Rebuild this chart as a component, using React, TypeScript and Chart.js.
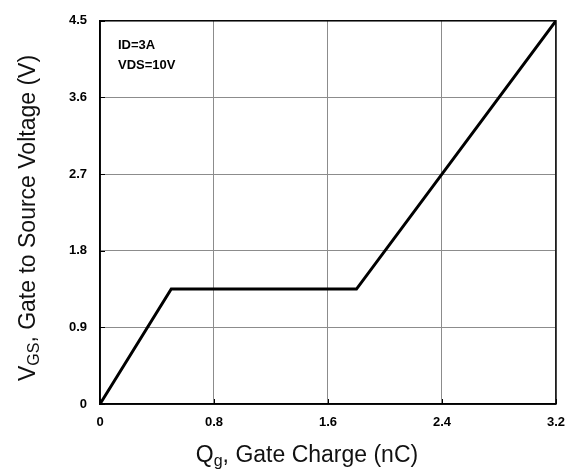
import React, { useEffect, useRef } from "react";
import { Chart, registerables } from "chart.js";

Chart.register(...registerables);

const qgValues = [0, 0.5, 1.8, 3.2];
const vgsValues = [0, 1.35, 1.35, 4.5];
const xTicks = [0, 0.8, 1.6, 2.4, 3.2];
const yTicks = [0, 0.9, 1.8, 2.7, 3.6, 4.5];
const annotations = ["ID=3A", "VDS=10V"];

const FONT = "'Liberation Sans', Arial, sans-serif";

function drawSubText(
  ctx: CanvasRenderingContext2D,
  parts: { t: string; sub?: boolean }[],
  size: number
) {
  let total = 0;
  for (const p of parts) {
    ctx.font = `${p.sub ? Math.round(size * 0.68) : size}px ${FONT}`;
    total += ctx.measureText(p.t).width;
  }
  let x = -total / 2;
  for (const p of parts) {
    ctx.font = `${p.sub ? Math.round(size * 0.68) : size}px ${FONT}`;
    ctx.fillText(p.t, x, p.sub ? size * 0.18 : 0);
    x += ctx.measureText(p.t).width;
  }
}

const decorPlugin = {
  id: "decor",
  beforeDatasetsDraw(chart: any) {
    const { ctx, chartArea: a, scales } = chart;
    ctx.save();
    ctx.strokeStyle = "#000";
    ctx.lineWidth = 1.5;
    ctx.strokeRect(a.left, a.top, a.right - a.left, a.bottom - a.top);
    ctx.lineWidth = 1;
    for (const v of yTicks) {
      const y = Math.round(scales.y.getPixelForValue(v)) + 0.5;
      ctx.beginPath();
      ctx.moveTo(a.left, y);
      ctx.lineTo(a.left + 5, y);
      ctx.stroke();
    }
    for (const v of xTicks) {
      const x = Math.round(scales.x.getPixelForValue(v)) + 0.5;
      ctx.beginPath();
      ctx.moveTo(x, a.bottom);
      ctx.lineTo(x, a.bottom - 5);
      ctx.stroke();
    }
    ctx.restore();
  },
  afterDraw(chart: any) {
    const { ctx, chartArea: a } = chart;
    ctx.save();
    ctx.fillStyle = "#000";
    ctx.textBaseline = "middle";
    ctx.textAlign = "left";
    ctx.font = `bold 13px ${FONT}`;
    annotations.forEach((t, i) => {
      ctx.fillText(t, a.left + 18, a.top + 25 + i * 20);
    });
    ctx.fillStyle = "#111";
    ctx.textBaseline = "alphabetic";
    ctx.save();
    ctx.translate(307, 462);
    drawSubText(ctx, [{ t: "Q" }, { t: "g", sub: true }, { t: ", Gate Charge (nC)" }], 23);
    ctx.restore();
    ctx.save();
    ctx.translate(35, 218);
    ctx.rotate(-Math.PI / 2);
    drawSubText(
      ctx,
      [{ t: "V" }, { t: "GS", sub: true }, { t: ", Gate to Source Voltage (V)" }],
      23
    );
    ctx.restore();
    ctx.restore();
  },
};

export default function App() {
  const ref = useRef<HTMLCanvasElement>(null);
  useEffect(() => {
    if (!ref.current) return;
    const chart = new Chart(ref.current, {
      type: "scatter",
      data: {
        datasets: [
          {
            data: qgValues.map((x, i) => ({ x, y: vgsValues[i] })),
            showLine: true,
            borderColor: "#000",
            borderWidth: 3,
            pointRadius: 0,
            fill: false,
            tension: 0,
          },
        ],
      },
      options: {
        animation: false,
        responsive: false,
        maintainAspectRatio: false,
        layout: { padding: { top: 18, right: 17, left: 0, bottom: 0 } },
        plugins: { legend: { display: false }, tooltip: { enabled: false } },
        scales: {
          x: {
            type: "linear",
            min: 0,
            max: 3.2,
            afterBuildTicks: (s: any) => {
              s.ticks = xTicks.map((v) => ({ value: v }));
            },
            afterFit: (s: any) => {
              s.height = 65;
            },
            ticks: {
              padding: 11,
              color: "#000",
              font: { family: FONT, size: 13, weight: "bold" },
              callback: (v: any) => String(v),
            },
            grid: { color: "#8c8c8c", lineWidth: 1, drawTicks: false },
            border: { color: "#000", width: 1.5 },
          },
          y: {
            type: "linear",
            min: 0,
            max: 4.5,
            afterBuildTicks: (s: any) => {
              s.ticks = yTicks.map((v) => ({ value: v }));
            },
            afterFit: (s: any) => {
              s.width = 100;
            },
            ticks: {
              padding: 13,
              color: "#000",
              font: { family: FONT, size: 13, weight: "bold" },
              callback: (v: any) => String(v),
            },
            grid: { color: "#8c8c8c", lineWidth: 1, drawTicks: false },
            border: { color: "#000", width: 1.5 },
          },
        },
      },
      plugins: [decorPlugin],
    });
    return () => chart.destroy();
  }, []);
  return (
    <div style={{ position: "fixed", left: 0, top: 0, width: 576, height: 469, background: "#fff" }}>
      <canvas ref={ref} width={576} height={469} style={{ width: 576, height: 469 }} />
    </div>
  );
}
